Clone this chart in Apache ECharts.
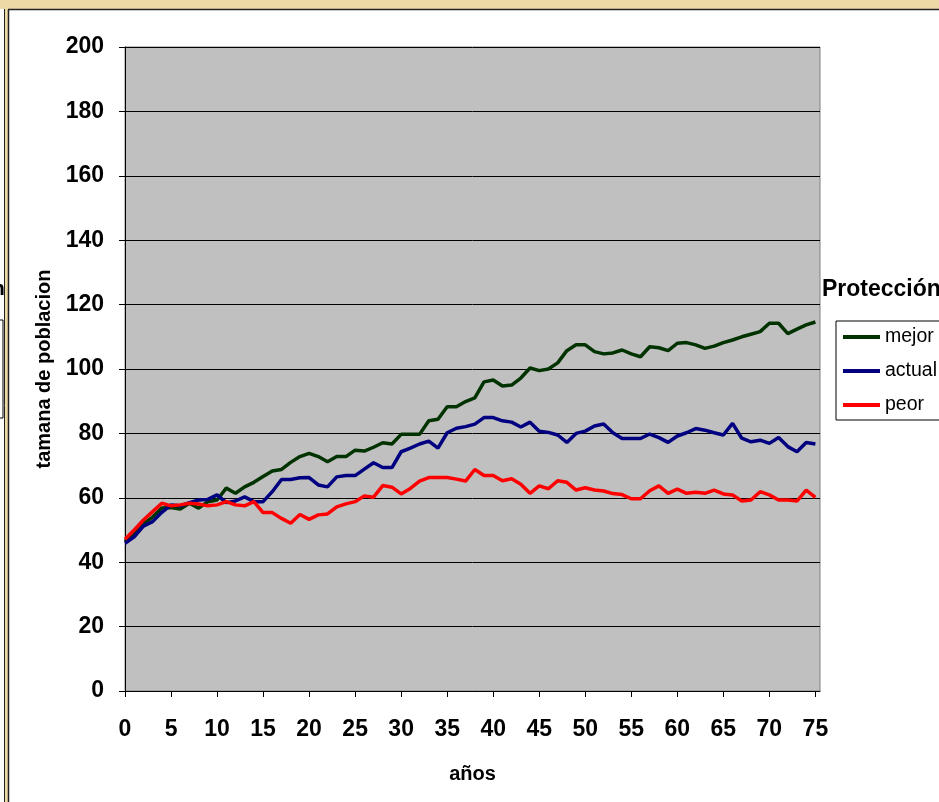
<!DOCTYPE html>
<html>
<head>
<meta charset="utf-8">
<script src="https://cdn.jsdelivr.net/npm/echarts@6/dist/echarts.min.js"></script>
<style>
  html, body { margin: 0; padding: 0; background: #fff; }
  #chart { width: 939px; height: 802px; }
</style>
</head>
<body>
<div id="chart"></div>
<script>
// años 0..75
var years = [];
for (var i = 0; i <= 75; i++) years.push(i);

var xTicks = [0, 5, 10, 15, 20, 25, 30, 35, 40, 45, 50, 55, 60, 65, 70, 75];

var mejor = [46.4, 49, 52, 54, 56.8, 57, 56.5, 58.3, 56.8, 58.8,
  59.3, 63, 61.4, 63.4, 64.8, 66.6, 68.3, 68.8, 71, 72.8,
  73.8, 72.8, 71.2, 72.8, 72.8, 74.8, 74.5, 75.7, 77.1, 76.7,
  79.7, 79.7, 79.7, 83.9, 84.4, 88.3, 88.3, 89.9, 91, 96,
  96.6, 94.7, 95, 97.2, 100.3, 99.5, 100, 101.9, 105.7, 107.5,
  107.5, 105.4, 104.7, 105, 105.9, 104.7, 103.8, 106.9, 106.6, 105.7,
  108, 108.2, 107.5, 106.4, 107.1, 108.2, 109, 110, 110.8, 111.6,
  114.2, 114.2, 111, 112.4, 113.7, 114.6];

var actual = [45.9, 47.9, 51.2, 52.6, 55.5, 57.8, 57.5, 58.5, 59.3, 59.5,
  60.9, 58.5, 59, 60.3, 58.8, 58.8, 61.9, 65.7, 65.7, 66.2,
  66.3, 64, 63.4, 66.5, 66.9, 66.9, 68.9, 70.9, 69.4, 69.4,
  74.3, 75.4, 76.7, 77.6, 75.4, 80.2, 81.6, 82.1, 82.9, 84.9,
  84.9, 83.9, 83.5, 82, 83.5, 80.7, 80.3, 79.5, 77.2, 80,
  80.7, 82.3, 82.9, 80.2, 78.4, 78.4, 78.4, 79.8, 78.7, 77.2,
  79.2, 80.2, 81.5, 81, 80.2, 79.5, 83.1, 78.5, 77.4, 77.9,
  76.9, 78.7, 75.9, 74.3, 77.2, 76.7];

var peor = [47.1, 50, 53.1, 55.7, 58.3, 57.5, 57.8, 58.3, 58.1, 57.5,
  57.8, 58.8, 57.8, 57.5, 58.8, 55.4, 55.4, 53.6, 52.1, 54.8,
  53.3, 54.7, 55, 57.2, 58.1, 58.8, 60.6, 60.2, 63.8, 63.3,
  61.2, 62.9, 65.2, 66.3, 66.3, 66.3, 65.8, 65.2, 68.8, 66.9,
  66.9, 65.3, 65.9, 64.2, 61.4, 63.7, 62.8, 65.3, 64.8, 62.4,
  63.1, 62.4, 62.1, 61.3, 61, 59.7, 59.7, 62.2, 63.7, 61.4,
  62.7, 61.4, 61.7, 61.4, 62.4, 61.2, 60.9, 59, 59.3, 61.9,
  60.9, 59.3, 59.3, 59, 62.4, 60.1];

function pairs(arr) {
  return arr.map(function (v, i) { return [years[i], v]; });
}

var font = 'Liberation Sans, Arial, sans-serif';
var chart = echarts.init(document.getElementById('chart'));

chart.setOption({
  animation: false,
  backgroundColor: '#fff',
  grid: {
    left: 125, right: 119, top: 47, bottom: 111,
    show: true, backgroundColor: '#c0c0c0', borderColor: '#808080', borderWidth: 1
  },
  xAxis: {
    type: 'value', min: 0, max: 75.5,
    name: 'años', nameLocation: 'middle', nameGap: 73,
    nameTextStyle: { fontFamily: font, fontWeight: 'bold', fontSize: 20, color: '#000' },
    axisLine: { onZero: false, lineStyle: { color: '#000', width: 1 } },
    axisTick: { show: true, length: 6, customValues: xTicks, lineStyle: { color: '#000' } },
    axisLabel: {
      customValues: xTicks, margin: 27,
      fontFamily: font, fontWeight: 'bold', fontSize: 23, color: '#000'
    },
    splitLine: { show: false }
  },
  yAxis: {
    type: 'value', min: 0, max: 200, interval: 20,
    name: 'tamana de poblacion', nameLocation: 'middle', nameGap: 70,
    nameTextStyle: { fontFamily: font, fontWeight: 'bold', fontSize: 20, color: '#000' },
    axisLine: { show: true, lineStyle: { color: '#000', width: 1 } },
    axisTick: { show: true, length: 6, lineStyle: { color: '#000' } },
    axisLabel: { margin: 21, fontFamily: font, fontWeight: 'bold', fontSize: 23, color: '#000' },
    splitLine: { show: true, lineStyle: { color: '#000', width: 1 } }
  },
  legend: {
    orient: 'vertical', left: 836, top: 321,
    data: ['mejor', 'actual', 'peor'],
    icon: 'rect', itemWidth: 37, itemHeight: 4, itemGap: 14,
    padding: [6, 30, 5, 7],
    backgroundColor: '#fff', borderColor: '#000', borderWidth: 1,
    textStyle: { fontFamily: font, fontSize: 19.5, color: '#000' }
  },
  graphic: [
    { type: 'rect', shape: { x: 0, y: 0, width: 939, height: 9 }, style: { fill: '#ecd9a6' }, silent: true },
    { type: 'rect', shape: { x: 0, y: 0, width: 5, height: 802 }, style: { fill: '#fff' }, silent: true },
    { type: 'rect', shape: { x: 0, y: 0, width: 5, height: 9 }, style: { fill: '#ecd9a6' }, silent: true },
    { type: 'rect', shape: { x: 5, y: 9, width: 3, height: 793 }, style: { fill: '#ecd9a6' }, silent: true },
    { type: 'line', shape: { x1: 4.5, y1: 9, x2: 4.5, y2: 802 }, style: { stroke: '#222', lineWidth: 1 }, silent: true },
    { type: 'line', shape: { x1: 8.5, y1: 9.5, x2: 8.5, y2: 802 }, style: { stroke: '#222', lineWidth: 1.5 }, silent: true },
    { type: 'line', shape: { x1: 8, y1: 9.5, x2: 939, y2: 9.5 }, style: { stroke: '#222', lineWidth: 1.5 }, silent: true },
    { type: 'text', left: -8, top: 279, style: { text: 'n', font: 'bold 21px ' + font, fill: '#000' }, silent: true },
    { type: 'rect', shape: { x: -10, y: 320, width: 13, height: 98 }, style: { fill: '#fff', stroke: '#000', lineWidth: 1 }, silent: true },
    { type: 'text', left: 822, top: 278, style: { text: 'Protección', font: 'bold 23px ' + font, fill: '#000' }, silent: true }
  ],
  series: [
    { name: 'mejor', type: 'line', data: pairs(mejor), symbol: 'none', lineStyle: { color: '#003300', width: 3.5 }, itemStyle: { color: '#003300' } },
    { name: 'actual', type: 'line', data: pairs(actual), symbol: 'none', lineStyle: { color: '#000080', width: 3.5 }, itemStyle: { color: '#000080' } },
    { name: 'peor', type: 'line', data: pairs(peor), symbol: 'none', lineStyle: { color: '#ff0000', width: 3.5 }, itemStyle: { color: '#ff0000' } }
  ]
});
</script>
</body>
</html>
